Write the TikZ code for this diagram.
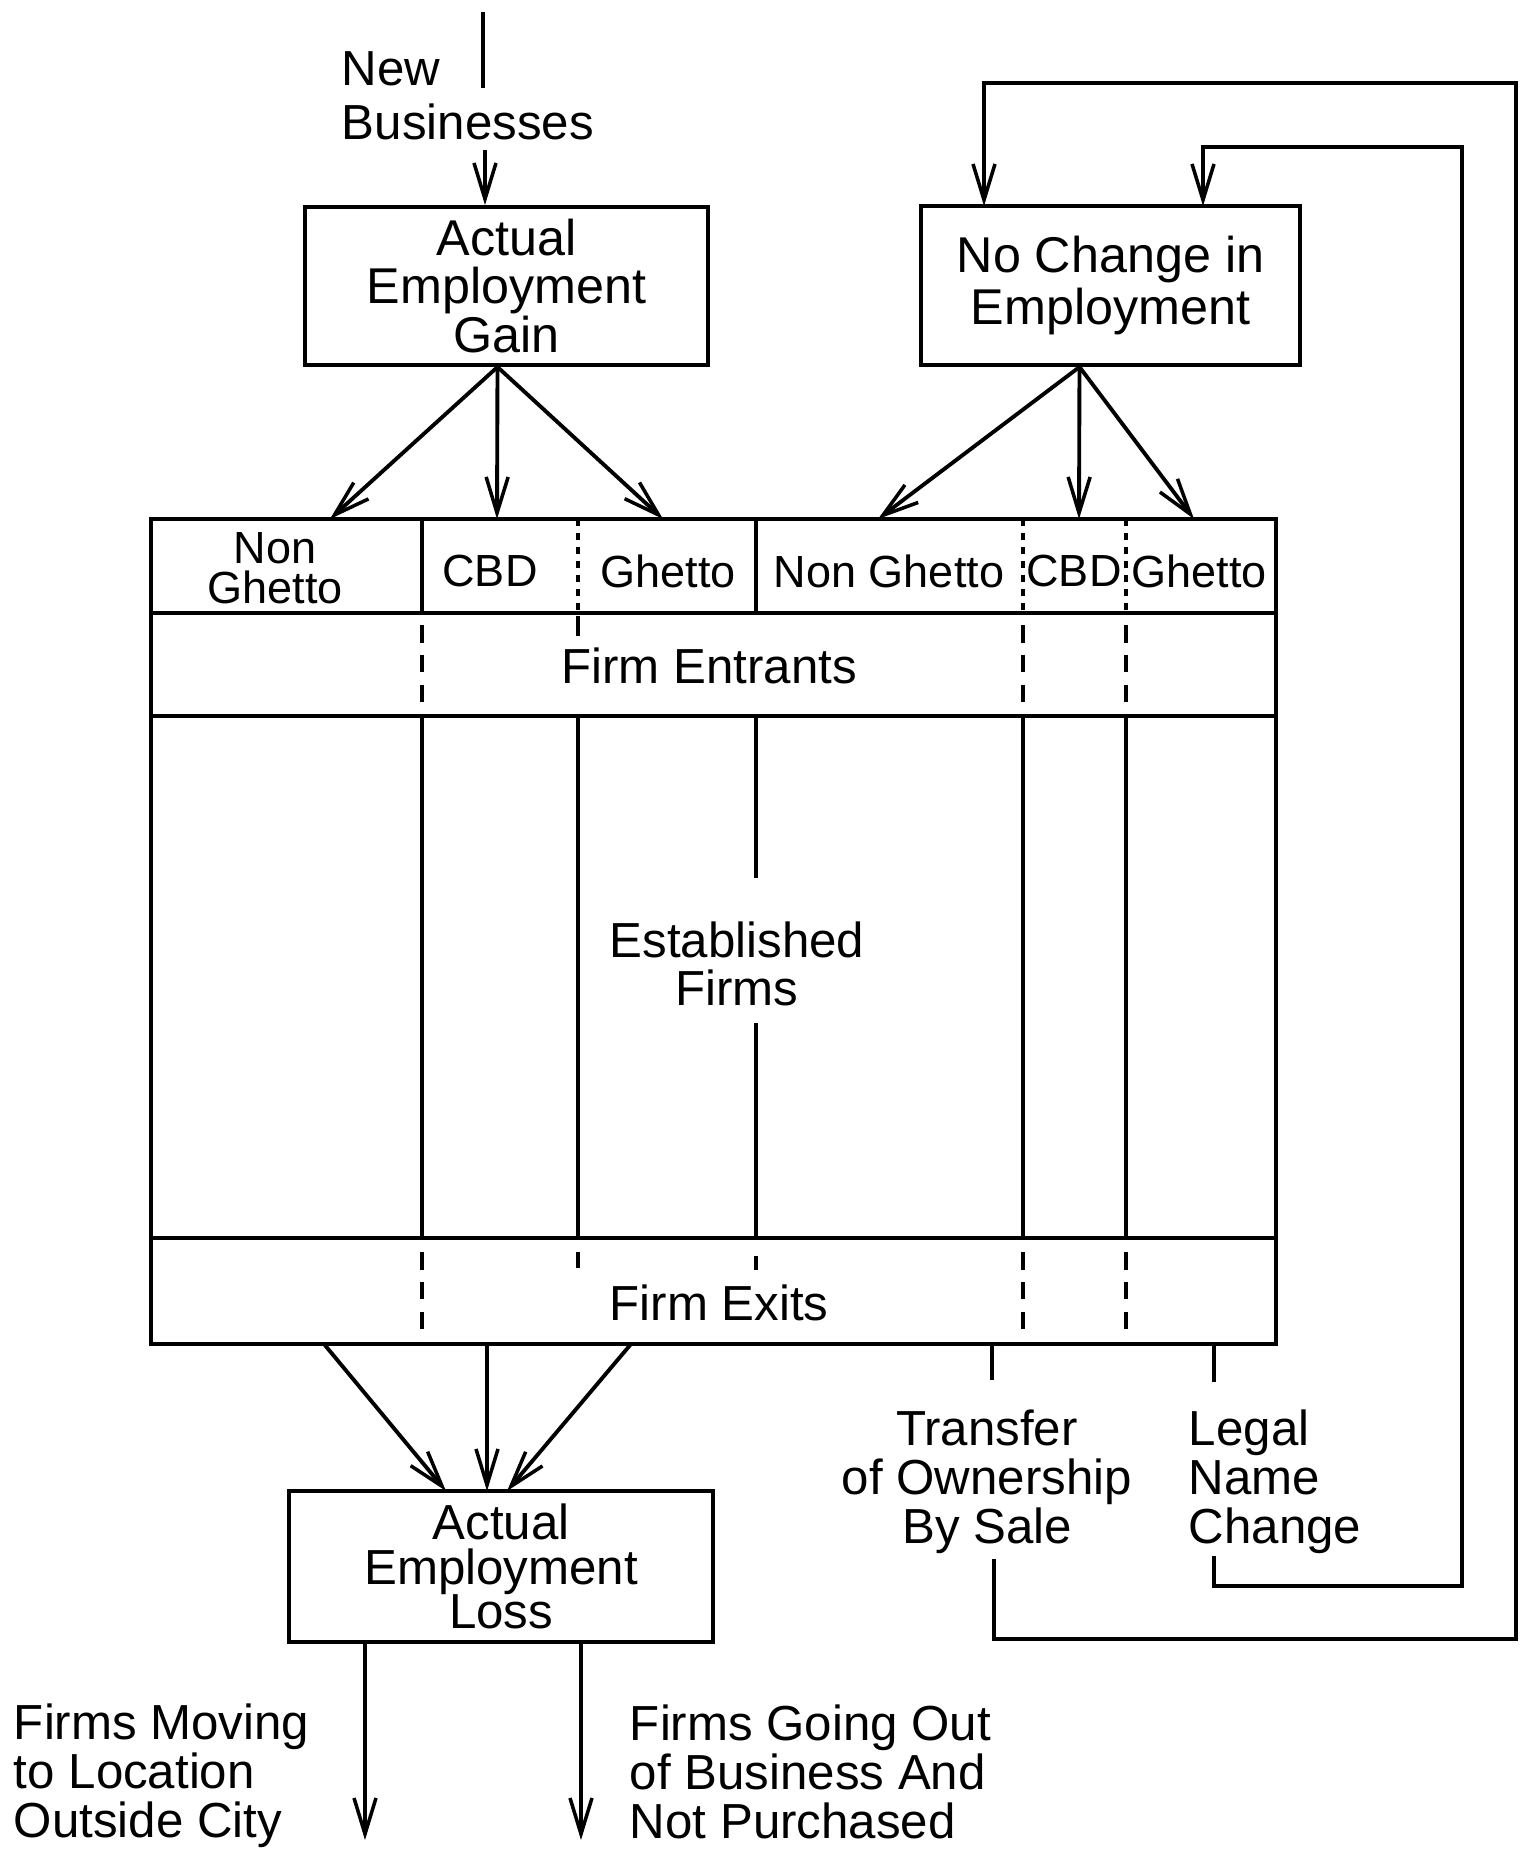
\documentclass[tikz,border=0pt]{standalone}
\usepackage{fontspec}
\setmainfont{Liberation Sans}
\usetikzlibrary{arrows.meta}
\begin{document}
\begin{tikzpicture}[x=0.01cm,y=-0.01cm,line width=1.1pt,
  arr/.style={-{Straight Barb[length=3.6mm,width=2.2mm,line width=1pt]}},
  boxnode/.style={draw,rectangle,inner sep=0pt,align=center},
  txt/.style={inner sep=0pt},
  dsh/.style={dash pattern=on 5pt off 3.5pt},
  fdsh/.style={dash pattern=on 2pt off 2pt,line width=0.9pt},
  hd/.style={txt,font={\fontsize{12.8pt}{11.5pt}\selectfont}},
  bd/.style={txt,font={\fontsize{14pt}{14pt}\selectfont}}]
\useasboundingbox (0,0) rectangle (1522,1849);

% boxes
\node[boxnode,minimum width=4.03cm,minimum height=1.58cm,font={\fontsize{14.3pt}{13.8pt}\selectfont}] (gain) at (506.5,286) {Actual\\Employment\\Gain};
\node[boxnode,minimum width=3.79cm,minimum height=1.59cm,font={\fontsize{14.3pt}{15pt}\selectfont}] (nochange) at (1110.5,285.5) {No Change in\\Employment};
\node[boxnode,minimum width=4.24cm,minimum height=1.51cm,font={\fontsize{14pt}{12.6pt}\selectfont}] (loss) at (501,1566.5) {Actual\\Employment\\Loss};

% table
\node[draw,rectangle,inner sep=0pt,minimum width=11.25cm,minimum height=8.25cm] (tbl) at (713.5,931.5) {};
\draw (151,613) -- (1276,613);
\draw (151,716) -- (1276,716);
\draw (151,1238) -- (1276,1238);
% header dividers
\draw (422,519) -- (422,613);
\draw[fdsh] (578,519) -- (578,613);
\draw (756,519) -- (756,613);
\draw[fdsh] (1023,519) -- (1023,613);
\draw[fdsh] (1126,519) -- (1126,613);
% entrants row
\draw[dsh] (422,625) -- (422,716);
\draw (578,616) -- (578,636);
\draw[dsh] (1023,625) -- (1023,716);
\draw[dsh] (1126,625) -- (1126,716);
% established firms
\draw (422,716) -- (422,1238);
\draw (578,716) -- (578,1238);
\draw (756,716) -- (756,878);
\draw (756,1023) -- (756,1238);
\draw (1023,716) -- (1023,1238);
\draw (1126,716) -- (1126,1238);
% exits row
\draw[dsh] (422,1252) -- (422,1344);
\draw (578,1252) -- (578,1268);
\draw (756,1256) -- (756,1270);
\draw[dsh] (1023,1252) -- (1023,1344);
\draw[dsh] (1126,1252) -- (1126,1344);

% header labels
\node[hd,align=center] (h1) at (275,568) {Non\\Ghetto};
\node[hd] (h2) at (490,571) {CBD};
\node[hd] (h3) at (668,571) {Ghetto};
\node[hd] (h4) at (889,571) {Non Ghetto};
\node[hd] (h5) at (1074,571) {CBD};
\node[hd] (h6) at (1199,571) {Ghetto};

\node[bd] (entr) at (709,666) {Firm Entrants};
\node[bd,align=center,font={\fontsize{14pt}{13.7pt}\selectfont}] (estab) at (737,964) {Established\\Firms};
\node[bd] (exits) at (719,1303) {Firm Exits};

% new businesses
\node[bd,align=left,anchor=west,font={\fontsize{14pt}{15.3pt}\selectfont}] (newb) at (340,96) {New\\Businesses};
\coordinate (nbtop) at (483,12);
\coordinate (nbbot) at (483,88);
\draw (nbtop) -- (nbbot);
\coordinate (nbarr) at (485,150);
\draw[arr] (nbarr) -- (gain.north -| nbarr);

% arrows from gain
\coordinate (g1) at (330,519);
\coordinate (g2) at (497,519);
\coordinate (g3) at (663,519);
\foreach \t in {g1,g2,g3} \draw[arr] ([xshift=-0.09cm]gain.south) -- (\t);
% arrows from no change
\coordinate (n1) at (878,519);
\coordinate (n2) at (1079,519);
\coordinate (n3) at (1194,519);
\foreach \t in {n1,n2,n3} \draw[arr] ([xshift=-0.31cm]nochange.south) -- (\t);

% arrows to loss
\coordinate (e1) at (324,1344);
\coordinate (e2) at (487,1344);
\coordinate (e3) at (631,1344);
\coordinate (l1) at (446,1491);
\coordinate (l2) at (487,1491);
\coordinate (l3) at (507,1491);
\draw[arr] (e1) -- (l1);
\draw[arr] (e2) -- (l2);
\draw[arr] (e3) -- (l3);

% from loss
\coordinate (ls1) at (365,1642);
\coordinate (ls2) at (581,1642);
\coordinate (le1) at (365,1840);
\coordinate (le2) at (581,1840);
\draw[arr] (ls1) -- (le1);
\draw[arr] (ls2) -- (le2);
\node[bd,align=left,anchor=west] (moving) at (12,1776) {Firms Moving\\to Location\\Outside City};
\node[bd,align=left,anchor=west] (goingout) at (628,1772) {Firms Going Out\\of Business And\\Not Purchased};

% transfer loop
\node[bd,align=center] (transfer) at (987,1482) {Transfer\\of Ownership\\By Sale};
\coordinate (tr1) at (992,1344);
\coordinate (tr2) at (992,1380);
\draw (tr1) -- (tr2);
\coordinate (tr3) at (994,1559);
\coordinate (ncin1) at (984,206);
\draw[arr] (tr3) -- (994,1639) -- (1516,1639) -- (1516,83) -- (984,83) -- (ncin1);

% legal name loop
\node[bd,align=left,anchor=west] (legal) at (1187,1482) {Legal\\Name\\Change};
\coordinate (lg1) at (1214,1344);
\coordinate (lg2) at (1214,1382);
\draw (lg1) -- (lg2);
\coordinate (lg3) at (1214,1556);
\coordinate (ncin2) at (1203,206);
\draw[arr] (lg3) -- (1214,1586) -- (1462,1586) -- (1462,147) -- (1203,147) -- (ncin2);
\end{tikzpicture}
\end{document}
